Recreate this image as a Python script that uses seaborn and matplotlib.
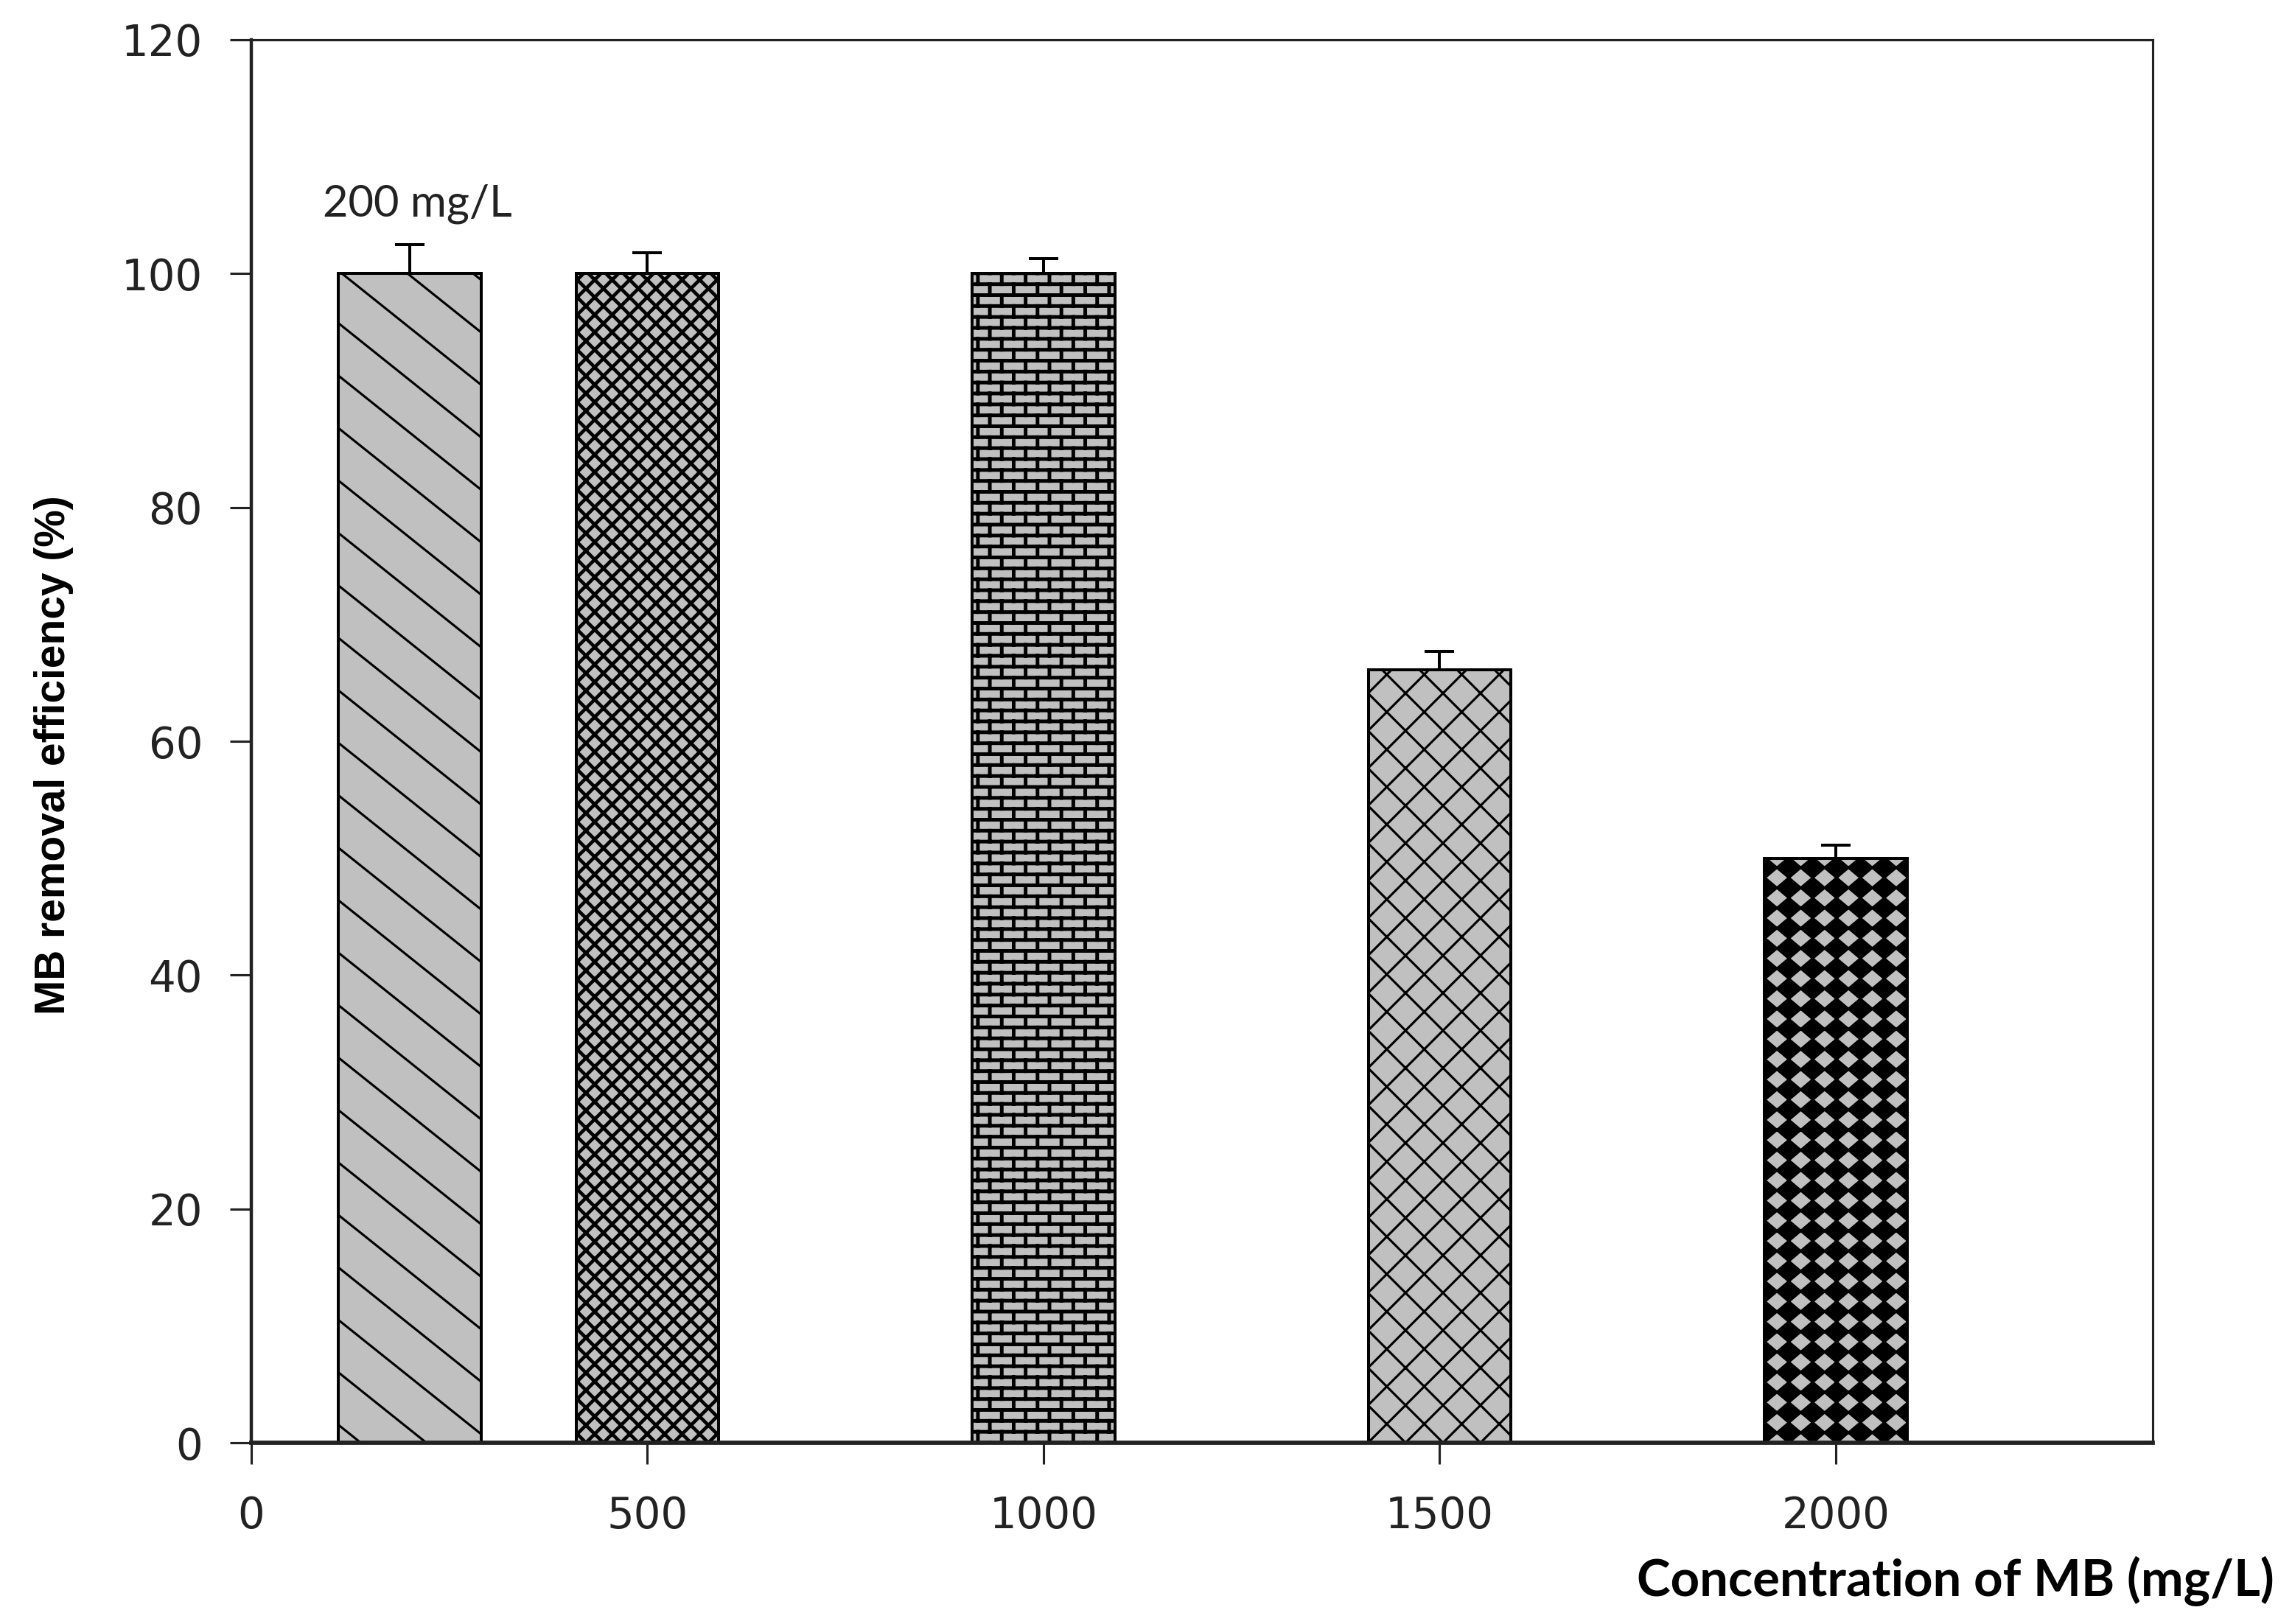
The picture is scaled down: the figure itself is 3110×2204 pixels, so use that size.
import warnings
import numpy as np
import pandas as pd
import matplotlib
matplotlib.use("Agg")
import matplotlib.pyplot as plt
import matplotlib.hatch as mhatch
from matplotlib.path import Path
import seaborn as sns

warnings.filterwarnings("ignore", message=".*hatch must consist.*")

# ---------------------------
# Data
# ---------------------------
concentration = [200, 500, 1000, 1500, 2000]          # mg/L
removal = [100.0, 100.0, 100.0, 66.1, 50.0]            # %
removal_err = [2.5, 1.8, 1.3, 1.6, 1.1]                # upper error, %
x_ticks = [0, 500, 1000, 1500, 2000]
y_ticks = [0, 20, 40, 60, 80, 100, 120]
bar_hatches = ["s", "xxxxx", "b", "c", "d"]
hatch_widths = [0.63, 0.95, 1.0, 0.63, 0.63]

DPI = 356   # hatch tile = 1 inch = 356 px

# ---------------------------
# Extra hatch patterns
# ---------------------------
# char -> list of (lines across one tile, lines down one tile, direction)
DIAG_SPECS = {"s": [(4, 5, 1)], "c": [(7, 7, 1), (7, 7, -1)]}


class Diagonals(mhatch.HatchPatternBase):
    def __init__(self, hatch, density):
        self.families = [f for ch, fams in DIAG_SPECS.items()
                         if ch in hatch for f in fams]
        self.num_vertices = sum(2 * (nx + ny + 1) for nx, ny, _ in self.families)

    def set_vertices_and_codes(self, vertices, codes):
        x0, x1 = -0.2, 1.2
        segs = []
        for nx, ny, sgn in self.families:
            ks = np.arange(nx + ny + 1) if sgn == 1 else np.arange(-ny, nx + 1)
            for k in ks:
                segs.append([(x0, (k - nx * x0) / (sgn * ny)),
                             (x1, (k - nx * x1) / (sgn * ny))])
        vertices[:] = np.array(segs, dtype=float).reshape(-1, 2)
        codes[0::2] = Path.MOVETO
        codes[1::2] = Path.LINETO


class Brick(mhatch.HatchPatternBase):
    def __init__(self, hatch, density):
        self.rows, self.cols = 24, 11
        n_seg = (self.rows + 1) + self.rows * (self.cols + 1)
        self.num_vertices = 2 * n_seg if "b" in hatch else 0

    def set_vertices_and_codes(self, vertices, codes):
        segs = []
        for r in range(self.rows + 1):
            y = r / self.rows
            segs.append([(0, y), (1, y)])
        for r in range(self.rows):
            y0, y1 = r / self.rows, (r + 1) / self.rows
            shift = 0.5 if r % 2 else 0.0
            for c in range(self.cols + 1):
                x = (c + shift) / self.cols
                segs.append([(x, y0), (x, y1)])
        vertices[:] = np.array(segs, dtype=float).reshape(-1, 2)
        codes[0::2] = Path.MOVETO
        codes[1::2] = Path.LINETO


class Diamonds(mhatch.HatchPatternBase):
    def __init__(self, hatch, density):
        self.nx, self.ny = 11, 13
        on = "d" in hatch
        self.num_vertices = 5 * (self.nx + 1) * (self.ny + 1) if on else 0

    def set_vertices_and_codes(self, vertices, codes):
        hx, hy = 0.5 / self.nx, 0.5 / self.ny
        shape = np.array([[-hx, 0], [0, hy], [hx, 0], [0, -hy], [-hx, 0]])
        parts = []
        for i in range(self.nx + 1):
            for j in range(self.ny + 1):
                parts.append(shape + [i / self.nx, j / self.ny])
        vertices[:] = np.concatenate(parts)
        codes[:] = np.tile([Path.MOVETO, Path.LINETO, Path.LINETO,
                            Path.LINETO, Path.CLOSEPOLY], len(parts))


mhatch._hatch_types.extend([Diagonals, Brick, Diamonds])

# ---------------------------
# Style
# ---------------------------
sns.set_style("ticks")
plt.rcParams["font.family"] = ["DejaVu Sans"]
plt.rcParams["hatch.linewidth"] = 0.63
plt.rcParams["hatch.color"] = "black"

df = pd.DataFrame({"concentration": concentration, "removal": removal})

fig = plt.figure(figsize=(3110 / DPI, 2204 / DPI), dpi=DPI)
ax = fig.add_axes([0.1096, 0.1116, 0.8296, 0.8639])

sns.barplot(data=df, x="concentration", y="removal", native_scale=True,
            orient="x", width=0.6, color="#c0c0c0", saturation=1,
            edgecolor="black", linewidth=0.81, errorbar=None, ax=ax)

bars = sorted([p for p in ax.patches], key=lambda p: p.get_x())
for bar, h, hw in zip(bars, bar_hatches, hatch_widths):
    bar.set_hatch(h)
    if hasattr(bar, "set_hatch_linewidth"):
        bar.set_hatch_linewidth(hw)

ax.errorbar(concentration, removal,
            yerr=[np.zeros(len(removal_err)), removal_err],
            fmt="none", ecolor="black", elinewidth=0.81,
            capsize=4.05, capthick=0.81, zorder=3)

ax.text(210, 104.9, "200 mg/L", ha="center", va="baseline",
        fontsize=12.1, family="Lato", color="#222222")

ax.set_xlim(0, 2400)
ax.set_ylim(0, 120)
ax.set_xticks(x_ticks)
ax.set_yticks(y_ticks)
ax.tick_params(direction="out", length=5.85, width=0.63, colors="#222222",
               labelsize=11.7)
ax.tick_params(axis="y", pad=7.46)
ax.tick_params(axis="x", pad=8.54)

for side, lw in [("top", 0.63), ("right", 0.63), ("left", 0.9), ("bottom", 1.17)]:
    ax.spines[side].set_linewidth(lw)
    ax.spines[side].set_color("#222222")

ax.set_ylabel("MB removal efficiency (%)", fontsize=11.5, fontweight="bold",
              family="Liberation Sans", color="black")
ax.yaxis.set_label_coords(-0.0934, 0.49)

ax.set_xlabel("Concentration of MB (mg/L)", fontsize=13.93, fontweight="bold",
              family="Lato", color="black", ha="right")
ax.xaxis.set_label_coords(1.064, -0.081)

fig.savefig("out.png", dpi=DPI)
plt.close(fig)
